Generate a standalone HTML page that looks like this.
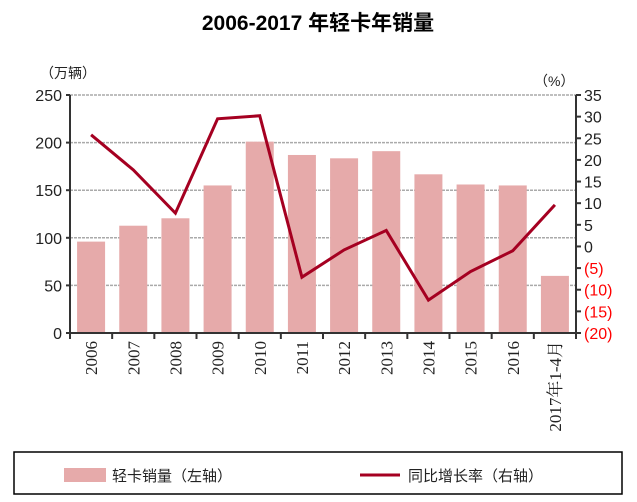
<!DOCTYPE html>
<html><head><meta charset="utf-8"><style>
body{margin:0;background:#fff;}
svg{display:block;font-family:"Liberation Sans","Noto Sans CJK SC",sans-serif;}
</style></head><body>
<svg id="c" width="637" height="502">
<text x="318" y="30" text-anchor="middle" font-size="21" font-weight="bold">2006-2017 年轻卡年销量</text>
<text x="40" y="78" font-size="14" fill="#222">（万辆）</text>
<text x="534" y="86" font-size="14" fill="#222">（%）</text>
<g id="grid"></g><g id="bars"></g><g id="axes"></g><g id="line"></g>
<rect x="14" y="452" width="608" height="42" fill="none" stroke="#000" stroke-width="1.5"/>
<rect x="64" y="468" width="42" height="14" fill="#e6aaaa"/>
<text x="112" y="481" font-size="15" fill="#222">轻卡销量（左轴）</text>
<line x1="360" y1="475" x2="400" y2="475" stroke="#a50021" stroke-width="3"/>
<text x="408" y="481" font-size="15" fill="#222">同比增长率（右轴）</text>
</svg>
<script>
const categories=["2006","2007","2008","2009","2010","2011","2012","2013","2014","2015","2016","2017年1-4月"];
const sales=[96,112.7,120.5,155,201,187,183.5,191,166.7,156,155,60];
const growth=[25.8,17.7,7.7,29.5,30.2,-7.1,-0.8,3.7,-12.4,-5.8,-1.0,9.6];
const leftTicks=[0,50,100,150,200,250];
const rightTicks=[35,30,25,20,15,10,5,0,-5,-10,-15,-20];
const NS="http://www.w3.org/2000/svg";
const L=70,R=576,T=95,B=333;
const cw=(R-L)/categories.length;
const yL=v=>B-(v/250)*(B-T);
const yR=v=>B-((v+20)/55)*(B-T);
const xC=i=>L+cw*(i+0.5);
function mk(p,tag,a){const e=document.createElementNS(NS,tag);for(const k in a)e.setAttribute(k,a[k]);document.getElementById(p).appendChild(e);return e;}
leftTicks.forEach(v=>{
  if(v>0){const g=mk('grid','line',{x1:L,x2:R,y1:yL(v),y2:yL(v),stroke:'#aaa','stroke-dasharray':'3,1','stroke-width':1.5});
  
  }
  const t=mk('axes','text',{x:L-8,y:yL(v)+6,'text-anchor':'end','font-size':16,fill:'#222'});t.textContent=v;
  
  
  mk('axes','line',{x1:L-4,x2:L,y1:yL(v),y2:yL(v),stroke:'#333','stroke-width':2});
});
rightTicks.forEach(v=>{
  const t=mk('axes','text',{x:R+8,y:yR(v)+6,'font-size':16,fill:v<0?'#ff0000':'#222'});t.textContent=v<0?'('+(-v)+')':v;
  
  
  mk('axes','line',{x1:R,x2:R+5,y1:yR(v),y2:yR(v),stroke:'#333','stroke-width':2});
});
sales.forEach((v,i)=>{
  const b=mk('bars','rect',{x:xC(i)-14,y:yL(v),width:28,height:B-yL(v),fill:'#e6aaaa'});
  
  
});
let a=mk('axes','line',{x1:L,x2:L,y1:T,y2:B,stroke:'#333','stroke-width':2});


a=mk('axes','line',{x1:R,x2:R,y1:T,y2:B,stroke:'#333','stroke-width':2});


a=mk('axes','line',{x1:L,x2:R,y1:B,y2:B,stroke:'#333','stroke-width':2});


for(let i=0;i<=categories.length;i++)mk('axes','line',{x1:L+cw*i,x2:L+cw*i,y1:B,y2:B+6,stroke:'#333','stroke-width':2});
categories.forEach((c,i)=>{
  const t=mk('axes','text',{x:0,y:0,'text-anchor':'end','font-size':17,fill:'#222','font-family':'"Liberation Serif","Noto Serif CJK SC",serif',transform:`translate(${xC(i)+6},${B+8}) rotate(-90)`});
  t.textContent=c;
  
  
});
const p=mk('line','polyline',{points:growth.map((v,i)=>xC(i)+','+yR(v)).join(' '),fill:'none',stroke:'#a50021','stroke-width':3,'stroke-linejoin':'miter'});


</script>
</body></html>
